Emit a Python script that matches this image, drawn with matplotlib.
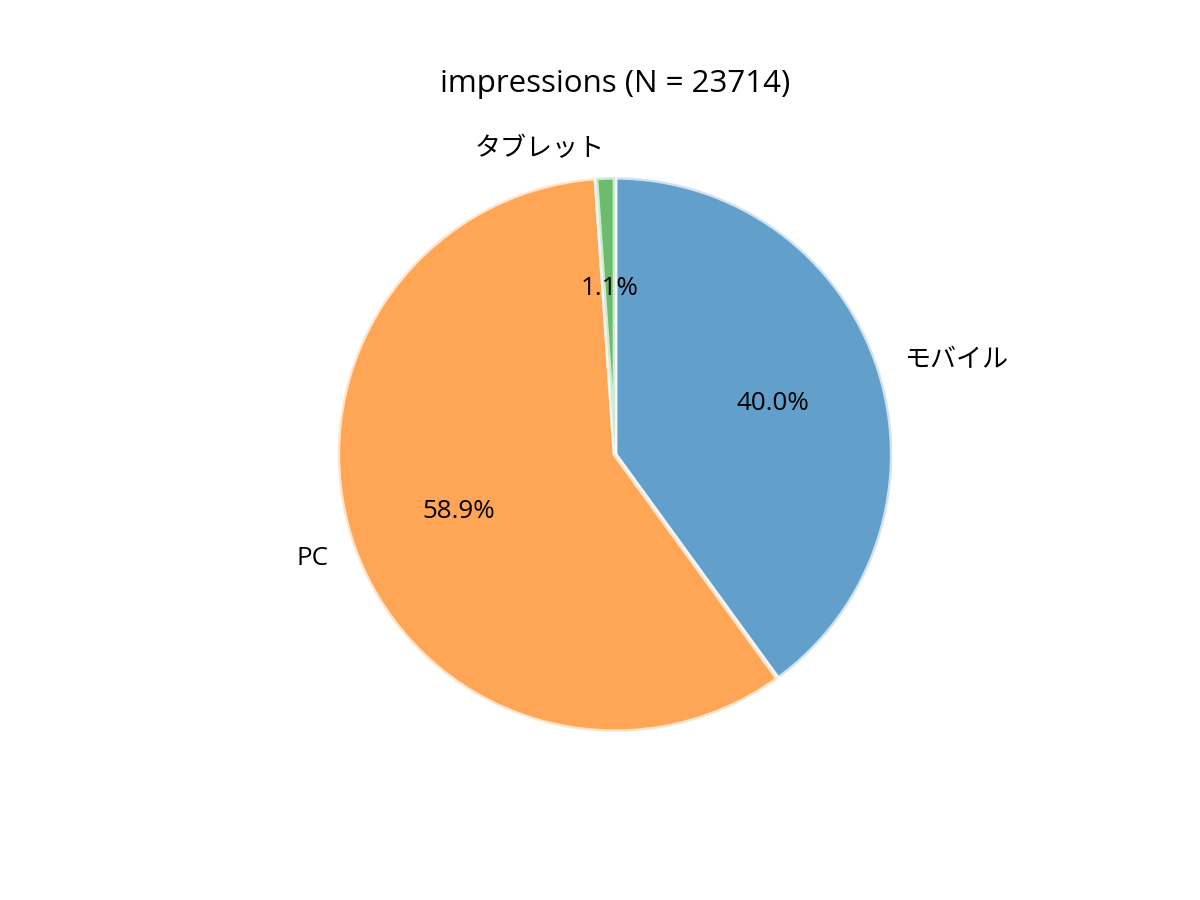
import matplotlib
matplotlib.use("Agg")
from matplotlib import pyplot as plt

plt.rcParams['font.family'] = ['Open Sans', 'Noto Sans CJK JP', 'DejaVu Sans']

# impressions by device
labels = ["モバイル", "PC", "タブレット"]
counts = [9486, 13967, 261]
colors = ["tab:blue", "tab:orange", "tab:green"]

total = sum(counts)

fig, ax = plt.subplots(figsize=(6.4, 4.8), dpi=187.5)
ax.pie(counts, labels=labels, colors=colors, autopct="%1.1f%%",
       startangle=90, counterclock=False,
       wedgeprops={"alpha": 0.7, "edgecolor": "white", "linewidth": 1.8})
ax.set_title(f"impressions (N = {total})")

fig.savefig("out.png")
